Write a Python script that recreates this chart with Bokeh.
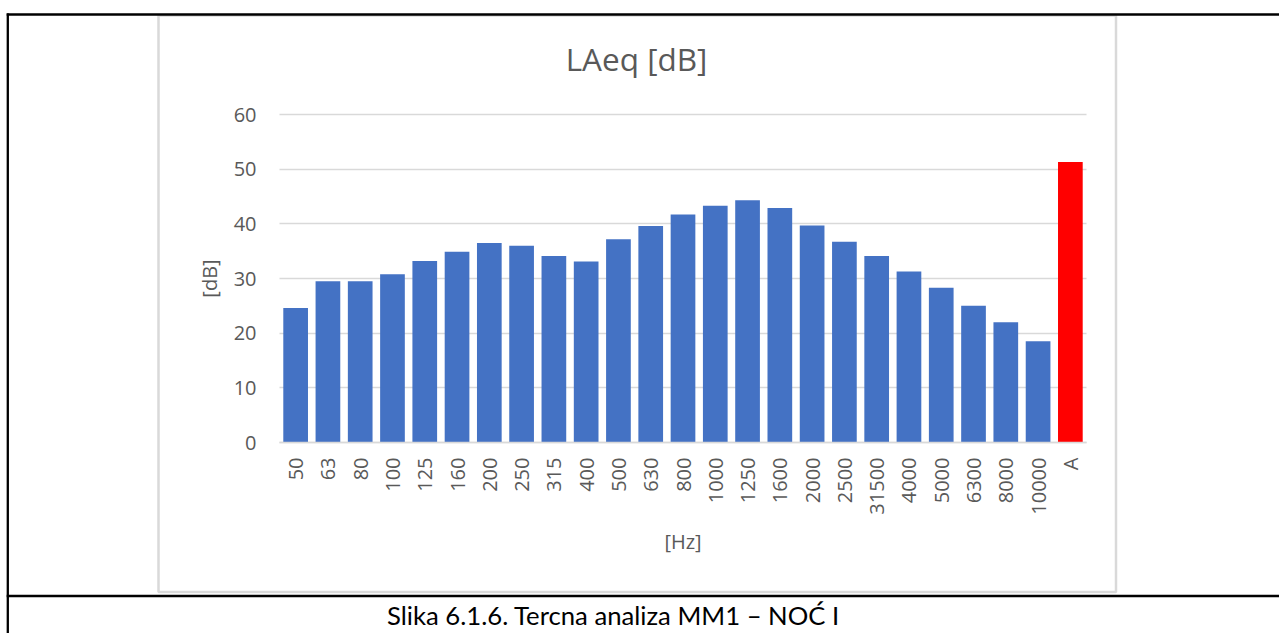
import math
from bokeh.plotting import figure
from bokeh.models import (Range1d, SingleIntervalTicker, FixedTicker, LinearAxis,
                          Grid, ColumnDataSource)
from bokeh.core.properties import value
from bokeh.embed import file_html
from bokeh.resources import INLINE

# ---- data ----
bands = ["50", "63", "80", "100", "125", "160", "200", "250", "315", "400",
         "500", "630", "800", "1000", "1250", "1600", "2000", "2500", "31500",
         "4000", "5000", "6300", "8000", "10000", "A"]
levels = [24.6, 29.5, 29.5, 30.8, 33.2, 34.9, 36.5, 36.0, 34.1, 33.1,
          37.2, 39.6, 41.7, 43.3, 44.3, 42.9, 39.7, 36.7, 34.1,
          31.3, 28.3, 25.0, 22.0, 18.5, 51.3]
y_tick_step = 10
y_max = 60
title_text = "LAeq [dB]"
y_label = "[dB]"
x_label = "[Hz]"
caption_text = "Slika 6.1.6. Tercna analiza MM1 – NOĆ I"

# ---- styles / layout ----
BLUE = "#4472C4"
RED = "#FF0000"
GRAY_TXT = "#595959"
GRID = "#d9d9d9"
FONT = "Open Sans"

W, H = 1279, 633
# plot area in pixels (left, right, top, bottom)
PA_L, PA_R, PA_T, PA_B = 279.0, 1086.0, 114.0, 442.0

n = len(bands)
positions = list(range(n))
colors = [RED if b == "A" else BLUE for b in bands]
src = ColumnDataSource(dict(x=positions, level=levels, color=colors))

# data ranges chosen so that the plot area lands where the reference has it
x_span = n * W / (PA_R - PA_L)
x_start = -0.5 - PA_L * x_span / W
y_span = y_max * H / (PA_B - PA_T)
y_start = -(H - PA_B) * y_max / (PA_B - PA_T)

p = figure(width=W, height=H, output_backend="svg", toolbar_location=None,
           x_range=Range1d(x_start, x_start + x_span),
           y_range=Range1d(y_start, y_start + y_span),
           x_axis_type=None, y_axis_type=None, title=None,
           min_border=0)
p.background_fill_color = "white"
p.border_fill_color = "white"
p.outline_line_color = None
p.extra_x_ranges = {"px": Range1d(0, W)}
p.extra_y_ranges = {"py": Range1d(H, 0)}

# ---- frame decorations (pixel ranges) ----
# chart area border
p.quad(left=[158], right=[1115.5], top=[15], bottom=[591.5],
       x_range_name="px", y_range_name="py",
       fill_color=None, line_color=GRID, line_width=2.5)
# table lines
p.segment(x0=[6.2, 6.2, 7.3], y0=[14, 595.5, 13], x1=[W, W, 7.3], y1=[14, 595.5, H],
          x_range_name="px", y_range_name="py",
          line_color="black", line_width=2.3)

# ---- y axis and grid ----
yticker = SingleIntervalTicker(interval=y_tick_step)
yaxis = LinearAxis(fixed_location=-0.5, ticker=yticker, bounds=(0, y_max))
yaxis.axis_line_color = None
yaxis.major_tick_line_color = None
yaxis.minor_tick_line_color = None
yaxis.major_tick_out = 0
yaxis.major_label_standoff = 19
yaxis.major_label_text_font = FONT
yaxis.major_label_text_font_size = "20px"
yaxis.major_label_text_color = GRAY_TXT
yaxis.axis_label = y_label
yaxis.axis_label_text_font = FONT
yaxis.axis_label_text_font_size = "20px"
yaxis.axis_label_text_font_style = "normal"
yaxis.axis_label_text_color = GRAY_TXT
yaxis.axis_label_standoff = 8
p.add_layout(yaxis, "left")

p.add_layout(Grid(dimension=1, ticker=yticker, bounds=(0, y_max),
                  cross_bounds=(-0.5, n - 0.5),
                  grid_line_color=GRID, grid_line_width=1.5))

# ---- bars ----
p.vbar(x="x", top="level", bottom=0, width=0.765, color="color",
       line_color=None, source=src)

# ---- x axis ----
xaxis = LinearAxis(fixed_location=0, ticker=FixedTicker(ticks=positions),
                   bounds=(-0.5, n - 0.5))
xaxis.major_label_overrides = {i: b for i, b in zip(positions, bands)}
xaxis.axis_line_color = GRID
xaxis.axis_line_width = 1.5
xaxis.major_tick_line_color = None
xaxis.minor_tick_line_color = None
xaxis.major_tick_out = 0
xaxis.major_label_standoff = 15
xaxis.major_label_orientation = math.pi / 2
xaxis.major_label_text_font = FONT
xaxis.major_label_text_font_size = "20px"
xaxis.major_label_text_color = GRAY_TXT
xaxis.axis_label = x_label
xaxis.axis_label_text_font = FONT
xaxis.axis_label_text_font_size = "20px"
xaxis.axis_label_text_font_style = "normal"
xaxis.axis_label_text_color = GRAY_TXT
xaxis.axis_label_standoff = 10
p.add_layout(xaxis, "below")

# ---- title and caption ----
p.text(x=[636], y=[58], text=[title_text], x_range_name="px", y_range_name="py",
       text_font=value(FONT), text_font_size="31.5px", text_color=GRAY_TXT,
       text_align="center", text_baseline="middle")
p.text(x=[613], y=[614], text=[caption_text], x_range_name="px", y_range_name="py",
       text_font=value("Lato"), text_font_size="25.7px", text_color="black",
       text_align="center", text_baseline="middle")

open("out.html", "w").write(file_html(p, INLINE))
